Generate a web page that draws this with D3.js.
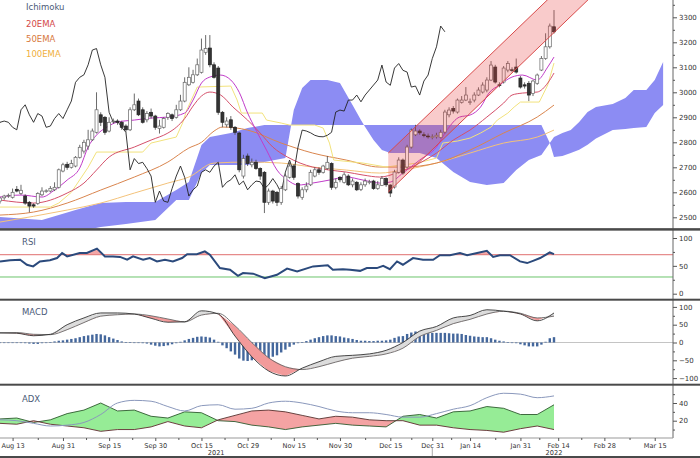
<!DOCTYPE html>
<html>
<head>
<meta charset="utf-8">
<script src="https://cdn.jsdelivr.net/npm/d3@7/dist/d3.min.js"></script>
<style>
  body { margin: 0; background: #fff; }
  svg { display: block; }
  text { font-family: "DejaVu Sans", Verdana, sans-serif; }
</style>
</head>
<body>
<div id="chart"></div>
<script>
// daily candles [open, high, low, close], one per trading bar
var candles = [
  [2565,2582,2555,2577],[2578,2590,2570,2585],[2586,2595,2578,2588],[2580,2615,2575,2600],[2612,2625,2600,2605],
  [2595,2630,2590,2608],[2585,2592,2550,2557],[2560,2565,2520,2545],[2550,2556,2538,2545],[2555,2600,2550,2595],
  [2590,2620,2585,2605],[2604,2612,2598,2606],[2605,2625,2600,2615],[2610,2640,2605,2620],[2620,2695,2615,2690],
  [2685,2718,2680,2710],[2712,2722,2690,2700],[2700,2730,2695,2715],[2705,2745,2700,2740],[2740,2790,2735,2780],
  [2765,2810,2755,2800],[2785,2850,2770,2810],[2810,2855,2805,2845],[2840,3000,2835,2930],[2910,2920,2865,2880],
  [2900,2905,2830,2840],[2845,2900,2840,2880],[2882,2895,2875,2885],[2885,2892,2870,2880],[2880,2886,2850,2860],
  [2865,2872,2840,2850],[2850,2940,2845,2930],[2930,2995,2925,2950],[2965,2975,2905,2910],[2930,2940,2875,2880],
  [2890,2925,2880,2915],[2920,2935,2895,2905],[2905,2910,2850,2860],[2855,2890,2835,2865],[2860,2900,2855,2895],
  [2900,2920,2890,2915],[2910,2915,2885,2895],[2900,2950,2895,2930],[2930,2990,2925,2965],[2965,3060,2960,3040],
  [3030,3100,3025,3060],[3040,3090,3035,3070],[3070,3135,3065,3110],[3080,3215,3075,3169],[3160,3229,3150,3175],
  [3177,3229,3100,3110],[3110,3120,3055,3060],[3097,3105,2910,2920],[2920,2925,2860,2880],[2870,2900,2860,2885],
  [2890,2905,2850,2860],[2860,2865,2830,2840],[2837,2842,2680,2690],[2665,2750,2655,2735],[2745,2755,2705,2715],
  [2710,2735,2700,2720],[2720,2730,2690,2695],[2695,2700,2650,2665],[2680,2685,2517,2560],[2560,2615,2550,2605],
  [2605,2610,2555,2565],[2600,2605,2545,2560],[2560,2625,2550,2615],[2610,2675,2605,2665],[2660,2720,2655,2705],
  [2705,2712,2650,2660],[2635,2640,2575,2585],[2580,2620,2570,2610],[2610,2640,2600,2625],[2630,2690,2625,2680],
  [2665,2700,2660,2690],[2690,2700,2670,2680],[2680,2710,2675,2705],[2695,2745,2690,2720],[2715,2720,2610,2620],
  [2620,2655,2612,2640],[2660,2665,2640,2650],[2640,2680,2635,2670],[2665,2672,2625,2630],[2630,2655,2620,2645],
  [2640,2645,2605,2610],[2612,2640,2605,2630],[2630,2655,2622,2645],[2640,2650,2632,2642],[2645,2650,2610,2615],
  [2615,2645,2610,2630],[2628,2665,2625,2655],[2655,2660,2622,2630],[2629,2632,2581,2597],[2621,2690,2615,2681],
  [2680,2740,2675,2729],[2729,2735,2670,2677],[2701,2790,2695,2781],[2781,2855,2775,2849],[2830,2870,2825,2845],
  [2845,2852,2830,2838],[2830,2840,2820,2828],[2825,2835,2815,2823],[2820,2832,2812,2822],[2822,2838,2815,2828],
  [2820,2850,2815,2840],[2841,2930,2835,2921],[2910,2940,2900,2929],[2935,2945,2915,2925],[2921,2975,2915,2969],
  [2960,2985,2955,2969],[2969,3021,2965,2989],[2960,2975,2950,2962],[2969,3000,2960,2989],[2989,3020,2985,3009],
  [3001,3040,2995,3029],[3009,3060,3000,3049],[3049,3125,3045,3109],[3101,3110,3035,3041],[3030,3040,3020,3028],
  [3041,3105,3035,3097],[3089,3125,3080,3115],[3090,3100,3080,3088],[3101,3135,3075,3081],[3057,3065,3015,3021],
  [3030,3040,3015,3025],[3036,3045,2965,2989],[2995,3050,2985,3045],[3036,3075,3030,3069],[3089,3145,3085,3135],
  [3135,3236,3130,3182],[3182,3275,3175,3265],[3262,3329,3235,3242]
];

// overlay lines as [bar, price]
var tenkan = [[0,2581],[5,2589],[10,2581],[13,2609],[16,2649],[19,2697],[21,2781],[23,2829],[25.5,2861],[28,2881],
  [32,2889],[36,2897],[40,2901],[44,2917],[46,2969],[48,3037],[50,3061],[52.5,3069],[55,3049],[57,3000],[59,2917],
  [61,2849],[63.5,2769],[66,2689],[68.5,2649],[71,2629],[74.5,2637],[78.5,2649],[82.5,2661],[86.5,2649],[90.5,2637],
  [93,2641],[96,2677],[100,2729],[104,2781],[106.5,2849],[109.5,2901],[112,2909],[114.5,2941],[116.5,2997],[119,3029],
  [122,3061],[124.5,3069],[128,3049],[130.5,3101],[132,3141]];
var ema20 = [[0,2569],[8,2557],[16,2597],[20,2637],[23,2689],[26,2741],[32,2781],[36,2809],[40,2837],[42,2860],
  [44,2895],[46,2945],[48,2985],[50,3001],[52.5,2990],[55.5,2941],[59,2889],[62,2837],[65,2781],[68.5,2741],
  [71.5,2717],[74.5,2701],[78.5,2689],[82.5,2681],[86.5,2669],[90.5,2661],[94.5,2677],[100,2717],[104,2757],
  [108,2809],[112,2849],[116,2901],[120,2957],[122,2989],[124.5,2997],[128,3001],[130.5,3037],[132,3077]];
var kijun = [[0,2541],[12,2541],[14,2557],[17,2600],[19,2650],[21,2700],[23,2761],[34,2761],[36,2797],[42,2821],
  [43.5,2877],[44.5,2929],[47,3021],[55,3025],[56.5,2969],[57.5,2917],[62.5,2917],[63.5,2889],[67,2877],[69,2869],
  [75,2869],[77,2857],[78.5,2797],[79.5,2729],[86.5,2717],[92,2701],[99.5,2717],[104,2737],[105.5,2797],[109,2805],
  [112,2817],[114.5,2837],[117,2861],[118.5,2889],[121,2917],[122.5,2941],[124,2961],[128.5,2961],[130.5,3029],[132,3117]];
var ema50 = [[0,2509],[8,2521],[16,2557],[24,2609],[32,2661],[40,2721],[45,2777],[48,2800],[51,2845],[53,2861],
  [59,2849],[67,2797],[74.5,2757],[82.5,2729],[90.5,2701],[96,2701],[104,2717],[112,2769],[120,2837],[128,2901],[132,2949]];
var ema100 = [[0,2481],[16,2529],[24,2557],[32,2597],[40,2637],[45,2661],[51,2717],[59,2721],[67,2717],[74.5,2701],
  [82.5,2689],[90.5,2677],[96,2689],[104,2717],[112,2757],[120,2797],[128,2821],[132,2849]];

// ichimoku cloud (already shifted forward)
var spanIdx = [0,10,18,24,30,37,42,45,48,50,55,59,63,68,70,72,74,78,81,84,86,87,89,91,93,100,104,108,112,116,
  120,123,126,129,131,132,134,136,138,140,142,146,149,151,154,156,158];
var spanA = [2429,2429,2441,2461,2473,2489,2569,2569,2677,2709,2709,2709,2721,2737,2929,3017,3049,3049,3037,2949,
  2889,2861,2809,2769,2757,2757,2737,2681,2641,2629,2637,2689,2729,2749,2797,2821,2837,2849,2881,2921,
  2941,2953,2977,3009,3009,3049,3121];
var spanB = [2501,2489,2529,2557,2561,2561,2609,2641,2789,2821,2837,2857,2869,2869,2869,2869,2869,2869,2869,2869,
  2869,2869,2869,2869,2869,2869,2869,2869,2869,2869,2869,2869,2869,2869,2797,2741,2745,2757,2770,2790,
  2815,2849,2853,2857,2861,2917,2949];
var chikouShift = 26;

// regression channel
var channelBars = [92.5, 145];
var channelUpper = [2757, 3605];
var channelLower = [2601, 3449];

// RSI [bar, value]
var rsi = [[0,58],[2.4,60],[4.8,61],[6.4,52],[7.9,49],[9.5,58],[11.9,60],[13.6,64],[14.8,73],[16,67],[19,73],
  [20.7,73],[23.1,81],[25,67],[26.9,67],[28.6,66],[30.3,61],[31.7,67],[34.1,61],[35.7,64],[37.4,58],[39.3,61],
  [41.2,58],[43.4,64],[44.6,71],[46.9,71],[48.8,76],[50,70],[52.4,46],[54.8,43],[56.7,32],[57.9,37],[60.3,36],
  [63.1,28],[66,34],[68.4,45],[70.8,40],[74.6,49],[78.1,51],[79.3,43],[81.7,44],[83.4,43],[85.8,41],[87.4,46],
  [89.8,46],[91.3,50],[92.9,44],[94.6,58],[96,52],[98.4,64],[100.8,61],[103.2,61],[104.8,69],[107.2,69],
  [109.6,73],[111.3,69],[113.7,73],[116,77],[117.5,66],[119.1,69],[121.5,69],[123.9,58],[125.6,55],[127,59],
  [128.7,64],[131,74],[132,71]];

// MACD and ADX sampled every 4 bars
var oscIdx = [0,4,8,12,16,20,24,28,32,36,40,44,48,52,56,60,64,68,72,76,80,84,88,92,96,100,104,108,112,116,120,124,128,132];
var macdLine = [27,26,19,23,50,69,83,83,80,68,57,58,89,80,18,-40,-80,-94,-72,-54,-39,-36,-32,-22,0,32,45,69,76,92,88,80,61,83];
var signalLine = [27,28,23,22,36,56,74,78,80,75,66,58,77,82,47,0,-43,-68,-76,-68,-55,-44,-39,-32,-16,17,34,53,65,80,88,82,69,74];
var macdHist = [0,0,0,0,0,-1,-2,-3,-4,-4, -2,-1,1,3,5,6,8,10,12,15, 18,20,22,24,23,20,15,11,7,3,
  1,1,0,-1,-2,-3,-6,-9,-11,-10, -8,-5,-2,2,6,10,13,16,17,16, 14,8,2,-8,-16,-25,-34,-45,-51,-52,
  -50,-48,-47,-46,-44,-40,-36,-28,-20,-12, -6,-2,1,4,8,12,15,18,20,20, 18,17,14,12,10,7,5,5,4,4,
  5,5,6,8,13,17,18,24,28,31, 30,29,28,27,27,27,27,26,25,25, 24,21,19,17,16,15,15,12,8,5,
  3,1,0,-2,-5,-8,-11,-11,-11,-6, 2,12,15];
var diPlus = [22,23,18,21,28,32,40,31,32,25,23,30,29,20,19,15,13,10,13,15,17,15,14,13,25,27,23,30,31,36,34,27,27,38];
var diMinus = [17,16,20,16,14,12,8,10,10,13,19,14,12,21,26,31,32,30,26,22,25,24,21,20,20,15,15,12,10,9,7,11,14,10];
var adxLine = [21,20,17,14,15,18,27,40,43,42,36,31,37,38,33,34,40,42,40,36,31,29,29,27,24,24,28,33,37,46,51,50,46,48];

// x axis
var xTickIdx = [3,15,26,37,48,59,70,81,93,103,112,124,133,144,156];
var xTickLabels = ["Aug 13","Aug 31","Sep 15","Sep 30","Oct 15","Oct 29","Nov 15","Nov 30","Dec 15","Dec 31","Jan 14","Jan 31","Feb 14","Feb 28","Mar 15"];
var yearLabels = ["2021","2022"];
var yearIdx = [51.5, 132];
var yearBreak = 103;

// ---- layout ----
var svgW = 700, svgH = 458, plotR = 673;
var svg = d3.select("#chart").append("svg").attr("width", svgW).attr("height", svgH);
var defs = svg.append("defs");

function clipRect(id, y0, y1) {
  defs.append("clipPath").attr("id", id).append("rect")
    .attr("x", 0).attr("y", y0).attr("width", plotR).attr("height", y1 - y0);
}
clipRect("cMain", 0, 228.5);
clipRect("cRsi", 231, 298.5);
clipRect("cMacd", 300.5, 384);
clipRect("cAdx", 386, 438);

var x = d3.scaleLinear().domain([0, 132]).range([0, 554]);
var yMain = d3.scaleLinear().domain([2500, 3300]).range([217.3, 17.3]);
var yRsi = d3.scaleLinear().domain([0, 100]).range([293.7, 238]);
var yMacd = d3.scaleLinear().domain([-100, 100]).range([378.1, 306.9]);
var yAdx = d3.scaleLinear().domain([0, 40]).range([438.4, 403]);

// ---- main panel ----
var gMain = svg.append("g").attr("clip-path", "url(#cMain)");

var cloud = d3.area()
  .x(i => x(spanIdx[i])).y0(i => yMain(spanA[i])).y1(i => yMain(spanB[i]));
gMain.append("path").attr("d", cloud(d3.range(spanIdx.length)))
  .attr("fill", "#8c8cf3");

function priceLine(data, color, width, curve) {
  gMain.append("path")
    .attr("d", d3.line().x(d => x(d[0])).y(d => yMain(d[1])).curve(curve || d3.curveMonotoneX)(data))
    .attr("fill", "none").attr("stroke", color).attr("stroke-width", width);
}
priceLine(ema100, "#f3c27a", 1);
priceLine(ema50, "#d9854e", 1);
priceLine(kijun, "#f2e27c", 1, d3.curveLinear);
priceLine(ema20, "#d4506a", 1);
priceLine(tenkan, "#c03cc8", 1);

// chikou span = close shifted back
priceLine(candles.map((c, i) => [i - chikouShift, c[3]]), "#222", 0.9, d3.curveLinear);

// candles
var bw = 3;
gMain.selectAll(".wick").data(candles).join("line").attr("class", "wick")
  .attr("x1", (d, i) => x(i)).attr("x2", (d, i) => x(i))
  .attr("y1", d => yMain(d[1])).attr("y2", d => yMain(d[2]))
  .attr("stroke", "#444").attr("stroke-width", 0.8);
gMain.selectAll(".body").data(candles).join("rect").attr("class", "body")
  .attr("x", (d, i) => x(i) - bw / 2).attr("width", bw)
  .attr("y", d => yMain(Math.max(d[0], d[3])))
  .attr("height", d => Math.max(0.8, Math.abs(yMain(d[0]) - yMain(d[3]))))
  .attr("fill", d => d[3] >= d[0] ? "#fff" : "#333")
  .attr("stroke", d => d[3] >= d[0] ? "#666" : "#222").attr("stroke-width", 0.7);

// regression channel
var chan = d3.range(channelBars.length);
gMain.append("path")
  .attr("d", d3.area().x(i => x(channelBars[i])).y0(i => yMain(channelLower[i])).y1(i => yMain(channelUpper[i]))(chan))
  .attr("fill", "rgba(232,70,70,0.28)");
[channelUpper, channelLower].forEach(function(arr) {
  gMain.append("path")
    .attr("d", d3.line().x(i => x(channelBars[i])).y(i => yMain(arr[i]))(chan))
    .attr("stroke", "#d84a4a").attr("stroke-width", 1).attr("fill", "none");
});

// legend
var legend = [["Ichimoku", "#4a5a78", 10], ["20EMA", "#d44848", 27], ["50EMA", "#d8783c", 42], ["100EMA", "#f0b040", 57]];
legend.forEach(function(l) {
  svg.append("text").attr("x", 26).attr("y", l[2]).attr("font-size", 8.5).attr("fill", l[1]).text(l[0]);
});

// ---- RSI ----
var gRsi = svg.append("g").attr("clip-path", "url(#cRsi)");
defs.append("clipPath").attr("id", "cRsiHi").append("rect")
  .attr("x", 0).attr("y", 231).attr("width", plotR).attr("height", yRsi(70) - 231);
defs.append("clipPath").attr("id", "cRsiLo").append("rect")
  .attr("x", 0).attr("y", yRsi(30)).attr("width", plotR).attr("height", 298.5 - yRsi(30));
var rsiArea = lvl => d3.area().x(d => x(d[0])).y0(yRsi(lvl)).y1(d => yRsi(d[1]));
gRsi.append("path").attr("d", rsiArea(70)(rsi)).attr("fill", "#f3a7a7").attr("clip-path", "url(#cRsiHi)");
gRsi.append("path").attr("d", rsiArea(30)(rsi)).attr("fill", "#a8e0a8").attr("clip-path", "url(#cRsiLo)");
gRsi.append("line").attr("x1", 0).attr("x2", plotR).attr("y1", yRsi(70)).attr("y2", yRsi(70))
  .attr("stroke", "#e07272").attr("stroke-width", 1);
gRsi.append("line").attr("x1", 0).attr("x2", plotR).attr("y1", yRsi(30)).attr("y2", yRsi(30))
  .attr("stroke", "#6cc46c").attr("stroke-width", 1);
gRsi.append("path").attr("d", d3.line().x(d => x(d[0])).y(d => yRsi(d[1]))(rsi))
  .attr("fill", "none").attr("stroke", "#2b4a7c").attr("stroke-width", 2);

// ---- MACD ----
var gMacd = svg.append("g").attr("clip-path", "url(#cMacd)");
gMacd.append("line").attr("x1", 0).attr("x2", plotR).attr("y1", yMacd(0)).attr("y2", yMacd(0))
  .attr("stroke", "#c4c4c4").attr("stroke-width", 1);
gMacd.selectAll(".hist").data(macdHist).join("rect").attr("class", "hist")
  .attr("x", (d, i) => x(i) - 1.2).attr("width", 2.4)
  .attr("y", d => yMacd(Math.max(0, d))).attr("height", d => Math.max(0.6, Math.abs(yMacd(d) - yMacd(0))))
  .attr("fill", "#44679c");
var oi = d3.range(oscIdx.length);
function crossFill(g, scale, a, b, id, colA, colB, top, bottom) {
  defs.append("clipPath").attr("id", id + "A").append("path")
    .attr("d", d3.area().x(i => x(oscIdx[i])).y0(top).y1(i => scale(b[i]))(oi));
  defs.append("clipPath").attr("id", id + "B").append("path")
    .attr("d", d3.area().x(i => x(oscIdx[i])).y0(i => scale(b[i])).y1(bottom)(oi));
  var band = d3.area().x(i => x(oscIdx[i])).y0(i => scale(a[i])).y1(i => scale(b[i]))(oi);
  g.append("g").attr("clip-path", "url(#" + id + "A)").append("path").attr("d", band).attr("fill", colA);
  g.append("g").attr("clip-path", "url(#" + id + "B)").append("path").attr("d", band).attr("fill", colB);
}
crossFill(gMacd, yMacd, macdLine, signalLine, "mf", "#dcdcdc", "#f29a9a", 300, 385);
gMacd.append("path").attr("d", d3.line().x(i => x(oscIdx[i])).y(i => yMacd(signalLine[i])).curve(d3.curveMonotoneX)(oi))
  .attr("fill", "none").attr("stroke", "#666").attr("stroke-width", 0.9);
gMacd.append("path").attr("d", d3.line().x(i => x(oscIdx[i])).y(i => yMacd(macdLine[i])).curve(d3.curveMonotoneX)(oi))
  .attr("fill", "none").attr("stroke", "#333").attr("stroke-width", 0.9);

// ---- ADX ----
var gAdx = svg.append("g").attr("clip-path", "url(#cAdx)");
crossFill(gAdx, yAdx, diPlus, diMinus, "af", "#96ec96", "#f4a3a3", 386, 440);
gAdx.append("path").attr("d", d3.line().x(i => x(oscIdx[i])).y(i => yAdx(diPlus[i]))(oi))
  .attr("fill", "none").attr("stroke", "#2f5a2f").attr("stroke-width", 0.9);
gAdx.append("path").attr("d", d3.line().x(i => x(oscIdx[i])).y(i => yAdx(diMinus[i]))(oi))
  .attr("fill", "none").attr("stroke", "#5a2e2e").attr("stroke-width", 0.9);
gAdx.append("path").attr("d", d3.line().x(i => x(oscIdx[i])).y(i => yAdx(adxLine[i])).curve(d3.curveMonotoneX)(oi))
  .attr("fill", "none").attr("stroke", "#8a98bc").attr("stroke-width", 1);

// panel titles
[["RSI", 245], ["MACD", 315], ["ADX", 402]].forEach(function(t) {
  svg.append("text").attr("x", 22).attr("y", t[1]).attr("font-size", 8.5).attr("fill", "#4a5a78").text(t[0]);
});

// ---- axes ----
function styleAxis(g, fs) {
  g.select(".domain").remove();
  g.selectAll("line").attr("stroke", "#555");
  g.selectAll("text").attr("font-size", fs || 7).attr("fill", "#333")
    .attr("font-family", '"DejaVu Sans", Verdana, sans-serif');
}
function rightAxis(scale, major, minor, y0, y1) {
  svg.append("line").attr("x1", plotR).attr("x2", plotR).attr("y1", y0).attr("y2", y1).attr("stroke", "#666");
  var gm = svg.append("g").attr("transform", "translate(" + plotR + ",0)")
    .call(d3.axisRight(scale).tickValues(minor).tickSize(2).tickFormat(""));
  styleAxis(gm);
  var g = svg.append("g").attr("transform", "translate(" + plotR + ",0)")
    .call(d3.axisRight(scale).tickValues(major).tickSize(4).tickPadding(2).tickFormat(d3.format("d")));
  styleAxis(g);
}
rightAxis(yMain, d3.range(2500, 3301, 100), d3.range(2550, 3351, 100), 0, 229);
rightAxis(yRsi, [0, 50, 100], [25, 75], 230, 299);
rightAxis(yMacd, [-100, -50, 0, 50, 100], [-75, -25, 25, 75], 300, 385);
rightAxis(yAdx, [20, 40], [10, 30, 50], 385, 438);

// bottom axis
svg.append("line").attr("x1", 0).attr("x2", plotR).attr("y1", 438).attr("y2", 438).attr("stroke", "#999");
var xMinor = d3.pairs(xTickIdx).map(p => (p[0] + p[1]) / 2);
var gxm = svg.append("g").attr("transform", "translate(0,438)")
  .call(d3.axisBottom(x).tickValues(xMinor).tickSize(2).tickFormat(""));
styleAxis(gxm);
var gx = svg.append("g").attr("transform", "translate(0,438)")
  .call(d3.axisBottom(x).tickValues(xTickIdx).tickFormat((d, i) => xTickLabels[i]).tickSize(3).tickPadding(2));
styleAxis(gx, 6.6);
yearLabels.forEach(function(t, i) {
  svg.append("text").attr("x", x(yearIdx[i])).attr("y", 455).attr("text-anchor", "middle")
    .attr("font-size", 6.6).attr("fill", "#333").text(t);
});
svg.append("line").attr("x1", x(yearBreak)).attr("x2", x(yearBreak)).attr("y1", 448).attr("y2", 458)
  .attr("stroke", "#aaa");

// panel separators
[[229.4, 2.5], [299.7, 2], [384.7, 2], [457, 2]].forEach(function(s) {
  svg.append("rect").attr("x", 0).attr("y", s[0] - s[1] / 2).attr("width", svgW).attr("height", s[1]).attr("fill", "#4a4a4a");
});
</script>
</body>
</html>
